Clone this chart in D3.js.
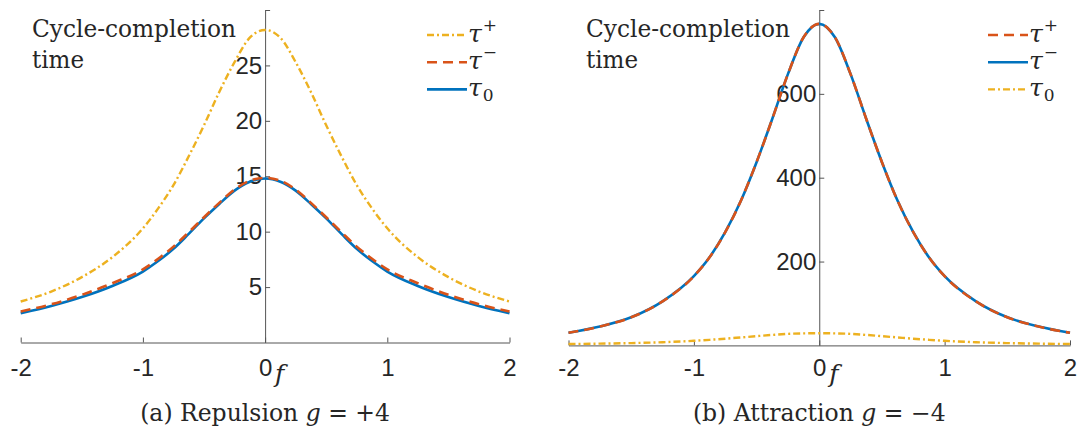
<!DOCTYPE html>
<html>
<head>
<meta charset="utf-8">
<script src="https://cdn.jsdelivr.net/npm/d3@7"></script>
<style>
  body { margin: 0; background: #fff; }
</style>
</head>
<body>
<svg id="chart" width="1082" height="430"></svg>
<script>
// force f, shared by all curves
const fVals = [-2, -1.75, -1.5, -1.25, -1, -0.875, -0.75, -0.625, -0.5, -0.375, -0.25, -0.125, 0,
               0.125, 0.25, 0.375, 0.5, 0.625, 0.75, 0.875, 1, 1.25, 1.5, 1.75, 2];

// (a) repulsion g = +4
const tauPlusRep  = [3.7, 4.6, 5.9, 7.7, 10.3, 12.1, 14.2, 16.8, 19.6, 22.6, 25.3, 27.5, 28.2,
                     27.5, 25.3, 22.6, 19.6, 16.8, 14.2, 12.1, 10.3, 7.7, 5.9, 4.6, 3.7];
const tauMinusRep = [2.8, 3.45, 4.3, 5.35, 6.6, 7.55, 8.65, 9.95, 11.3, 12.6, 13.8, 14.6, 14.85,
                     14.6, 13.8, 12.6, 11.3, 9.95, 8.65, 7.55, 6.6, 5.35, 4.3, 3.45, 2.8];
const tau0Rep     = [2.65, 3.3, 4.1, 5.1, 6.4, 7.35, 8.45, 9.8, 11.2, 12.5, 13.7, 14.5, 14.8,
                     14.5, 13.7, 12.5, 11.2, 9.8, 8.45, 7.35, 6.4, 5.1, 4.1, 3.3, 2.65];

// (b) attraction g = -4
const tauPlusAtt  = [30, 45, 67, 105, 165, 210, 270, 345, 437, 540, 647, 735, 767,
                     735, 647, 540, 437, 345, 270, 210, 165, 105, 67, 45, 30];
const tauMinusAtt = [30, 45, 67, 105, 165, 210, 270, 345, 437, 540, 647, 735, 767,
                     735, 647, 540, 437, 345, 270, 210, 165, 105, 67, 45, 30];
const tau0Att     = [3.4, 4.2, 5.5, 7.6, 11, 13.3, 16, 19, 22, 25, 27.5, 28.7, 29,
                     28.7, 27.5, 25, 22, 19, 16, 13.3, 11, 7.6, 5.5, 4.2, 3.4];

const xTicks = [-2, -1, 0, 1, 2];
const xTickLabels = ["-2", "-1", "0", "1", "2"];
const yTicksRep = [5, 10, 15, 20, 25, 30];
const yTickLabelsRep = ["5", "10", "15", "20", "25", ""];
const yTicksAtt = [200, 400, 600, 800];
const yTickLabelsAtt = ["200", "400", "600", ""];

const COL_BLUE = "#0072BD", COL_RED = "#D95319", COL_YEL = "#EDB120";
const DASH = "10,6", DASHDOT = "7,3,2,3";
const SERIF = "'DejaVu Serif', serif";
const SANS = "'Liberation Sans', Arial, Helvetica, sans-serif";

const svg = d3.select("#chart");
svg.append("rect").attr("width", 1082).attr("height", 430).attr("fill", "#fff");

function serifText(g, x, y, size) {
    return g.append("text").attr("x", x).attr("y", y)
        .attr("font-family", SERIF).attr("font-size", size).attr("fill", "#262626");
}

function drawPanel(p) {
    const x = d3.scaleLinear().domain([-2, 2]).range(p.xr);
    const y = d3.scaleLinear().domain(p.yd).range(p.yr);
    const g = svg.append("g");

    // x axis sits on y = 0, y axis on f = 0
    const gx = g.append("g")
        .attr("transform", "translate(0," + y(0) + ")")
        .call(d3.axisBottom(x).tickValues(xTicks).tickFormat((d, i) => xTickLabels[i])
            .tickSize(-5).tickSizeOuter(0).tickPadding(359 - y(0)));

    const gy = g.append("g")
        .attr("transform", "translate(" + x(0) + ",0)")
        .call(d3.axisLeft(y).tickValues(p.yTicks).tickFormat((d, i) => p.yLabels[i])
            .tickSize(-5).tickSizeOuter(0).tickPadding(3));

    [gx, gy].forEach(a => {
        a.attr("font-family", SANS).attr("font-size", 24);
        a.selectAll(".domain, .tick line").attr("stroke", "#555");
        a.selectAll(".tick text").attr("fill", "#262626");
    });

    const line = d3.line()
        .x((d, i) => x(fVals[i]))
        .y(d => y(d))
        .curve(d3.curveMonotoneX);

    p.series.forEach(s => {
        g.append("path")
            .datum(s.values)
            .attr("fill", "none")
            .attr("stroke", s.color)
            .attr("stroke-width", s.width)
            .attr("stroke-dasharray", s.dash)
            .attr("d", line);
    });

    // title inside the plot
    serifText(g, p.titleX, 37, 25).attr("textLength", 204).attr("lengthAdjust", "spacingAndGlyphs")
        .text("Cycle-completion");
    serifText(g, p.titleX, 68, 25).attr("textLength", 52).attr("lengthAdjust", "spacingAndGlyphs")
        .text("time");

    // f label next to the 0 tick
    serifText(g, x(0) + 10, 382, 25).attr("font-style", "italic").text("f");

    // legend
    p.legend.forEach((s, i) => {
        const ly = 35 + i * 27.2;
        g.append("line")
            .attr("x1", p.legX).attr("x2", p.legX + 40)
            .attr("y1", ly).attr("y2", ly)
            .attr("stroke", s.color).attr("stroke-width", s.width)
            .attr("stroke-dasharray", s.dash);
        const t = serifText(g, p.legX + 41, ly + 7, 25);
        t.append("tspan").attr("font-style", "italic").text("τ");
        t.append("tspan").attr("font-size", 17).attr("dx", 1).attr("dy", s.sub ? 5 : -11).text(s.mark);
    });

    // caption
    const c = serifText(g, x(0), 421, 23.5).attr("text-anchor", "middle");
    c.append("tspan").text(p.caption[0] + " ");
    c.append("tspan").attr("font-style", "italic").text("g");
    c.append("tspan").text(" = " + p.caption[1]);
}

const sPlus  = { mark: "+", sub: false };
const sMinus = { mark: "−", sub: false };
const sZero  = { mark: "0", sub: true };

// repulsion panel
const repYellow = Object.assign({ values: tauPlusRep, color: COL_YEL, width: 2.4, dash: DASHDOT }, sPlus);
const repRed = Object.assign({ values: tauMinusRep, color: COL_RED, width: 2.6, dash: DASH }, sMinus);
const repBlue = Object.assign({ values: tau0Rep, color: COL_BLUE, width: 2.6, dash: null }, sZero);
drawPanel({
    xr: [20.7, 509.5], yd: [0, 30], yr: [342.5, 10],
    yTicks: yTicksRep, yLabels: yTickLabelsRep,
    series: [repYellow, repBlue, repRed],
    legend: [repYellow, repRed, repBlue],
    titleX: 32, legX: 427,
    caption: ["(a) Repulsion", "+4"]
});

// attraction panel
const attRed = Object.assign({ values: tauPlusAtt, color: COL_RED, width: 2.6, dash: DASH }, sPlus);
const attBlue = Object.assign({ values: tauMinusAtt, color: COL_BLUE, width: 2.6, dash: null }, sMinus);
const attYellow = Object.assign({ values: tau0Att, color: COL_YEL, width: 2.4, dash: DASHDOT }, sZero);
drawPanel({
    xr: [568.5, 1070], yd: [0, 800], yr: [345.4, 10],
    yTicks: yTicksAtt, yLabels: yTickLabelsAtt,
    series: [attYellow, attBlue, attRed],
    legend: [attRed, attBlue, attYellow],
    titleX: 586, legX: 988,
    caption: ["(b) Attraction", "−4"]
});
</script>
</body>
</html>
